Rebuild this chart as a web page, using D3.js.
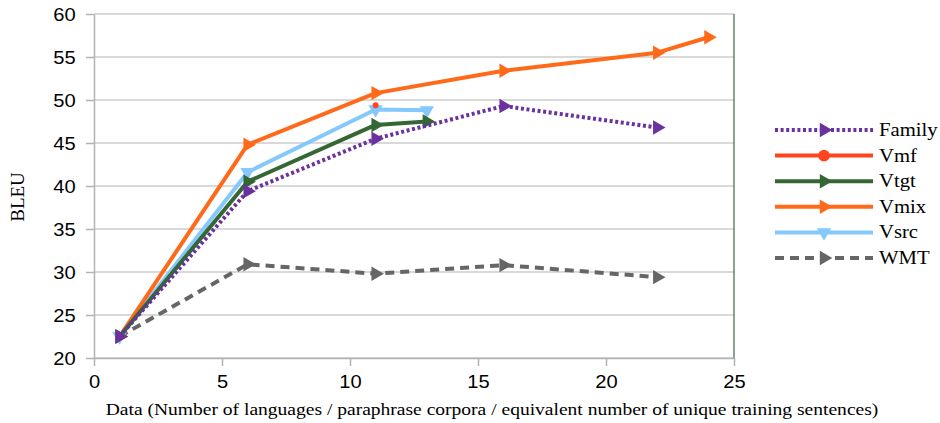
<!DOCTYPE html>
<html>
<head>
<meta charset="utf-8">
<script src="https://cdn.jsdelivr.net/npm/d3@7"></script>
<style>
  body { margin: 0; background: #fff; }
  .tick text { font-family: "Liberation Sans", Arial, sans-serif; font-size: 17.5px; fill: #000; }
  .serif { font-family: "Liberation Serif", "Times New Roman", serif; fill: #000; }
</style>
</head>
<body>
<div class="chart"></div>
<script>
var svgWidth = 940;
var svgHeight = 423;

var margin = { top: 14, right: 206, bottom: 65, left: 94 };

var width = svgWidth - margin.left - margin.right;
var height = svgHeight - margin.top - margin.bottom;

// the source picture is a little wider than tall, so text gets stretched too
var stretch = 1.15;

// data
var seriesNames = ['Family', 'Vmf', 'Vtgt', 'Vmix', 'Vsrc', 'WMT'];
var familyX = [1, 6, 11, 16, 22];
var familyY = [22.5, 39.4, 45.5, 49.3, 46.8];
var vmfX = [11];
var vmfY = [49.4];
var vtgtX = [1, 6, 11, 13];
var vtgtY = [22.5, 40.5, 47.1, 47.5];
var vmixX = [1, 6, 11, 16, 22, 24];
var vmixY = [22.5, 44.8, 50.8, 53.4, 55.5, 57.3];
var vsrcX = [1, 6, 11, 13];
var vsrcY = [22.5, 41.6, 48.9, 48.8];
var wmtX = [1, 6, 11, 16, 22];
var wmtY = [22.5, 30.9, 29.8, 30.8, 29.4];
var xTicks = [0, 5, 10, 15, 20, 25];
var yTicks = [20, 25, 30, 35, 40, 45, 50, 55, 60];

function zip(xs, ys) {
  return xs.map(function(x, i) { return { x: x, y: ys[i] }; });
}

var series = [
  { name: seriesNames[0], pts: zip(familyX, familyY), color: '#6a329f', dash: '3,2.6', marker: 'right', size: 90 },
  { name: seriesNames[1], pts: zip(vmfX, vmfY), color: '#ff4420', dash: null, marker: 'circle', size: 28 },
  { name: seriesNames[2], pts: zip(vtgtX, vtgtY), color: '#346734', dash: null, marker: 'right', size: 90 },
  { name: seriesNames[3], pts: zip(vmixX, vmixY), color: '#ff6a1a', dash: null, marker: 'right', size: 90 },
  { name: seriesNames[4], pts: zip(vsrcX, vsrcY), color: '#85c8fb', dash: null, marker: 'down', size: 90 },
  { name: seriesNames[5], pts: zip(wmtX, wmtY), color: '#666666', dash: '9,6', marker: 'right', size: 90 }
];

var svg = d3.select('.chart')
  .append('svg')
  .attr('width', svgWidth)
  .attr('height', svgHeight);

var chart = svg.append('g')
  .attr('transform', 'translate(' + margin.left + ',' + margin.top + ')');

var x = d3.scaleLinear().domain([0, 25]).range([0, width]);
var y = d3.scaleLinear().domain([20, 60]).range([height, 0]);

// grid
chart.append('g')
  .selectAll('line')
  .data(yTicks)
  .enter()
  .append('line')
  .attr('x1', 0)
  .attr('x2', width)
  .attr('y1', function(d) { return y(d); })
  .attr('y2', function(d) { return y(d); })
  .attr('stroke', '#cccccc')
  .attr('stroke-width', 1.5);

chart.append('line')
  .attr('x1', width).attr('x2', width)
  .attr('y1', 0).attr('y2', height)
  .attr('stroke', '#3d6b4a')
  .attr('stroke-width', 1.2);

var bottom = d3.axisBottom(x).tickValues(xTicks).tickSize(8).tickPadding(10).tickSizeOuter(0);
var left = d3.axisLeft(y).tickValues(yTicks).tickSize(8).tickPadding(8).tickSizeOuter(0);

var gx = chart.append('g')
  .attr('transform', 'translate(0,' + height + ')')
  .call(bottom);
var gy = chart.append('g').call(left);

[gx, gy].forEach(function(g) {
  g.select('.domain').attr('stroke', '#b3b3b3').attr('stroke-width', 1.5);
  g.selectAll('.tick line').attr('stroke', '#b3b3b3').attr('stroke-width', 1.5);
  g.selectAll('.tick text').attr('transform', 'scale(' + stretch + ',1)');
});
gy.selectAll('.tick text').attr('dy', '0.36em');

function symbolRotate(s) {
  if (s.marker === 'right') return 90;
  if (s.marker === 'down') return 180;
  return 0;
}
function symbolPath(s, size) {
  var type = s.marker === 'circle' ? d3.symbolCircle : d3.symbolTriangle;
  return d3.symbol().type(type).size(size)();
}

var line = d3.line()
  .x(function(d) { return x(d.x); })
  .y(function(d) { return y(d.y); });

// draw in reverse so Family sits on top
series.slice().reverse().forEach(function(s) {
  var g = chart.append('g');
  if (s.pts.length > 1) {
    g.append('path')
      .datum(s.pts)
      .attr('d', line)
      .attr('fill', 'none')
      .attr('stroke', s.color)
      .attr('stroke-width', 4)
      .attr('stroke-linejoin', 'round')
      .attr('stroke-dasharray', s.dash);
  }
  g.selectAll('path.mark')
    .data(s.pts)
    .enter()
    .append('path')
    .attr('class', 'mark')
    .attr('d', symbolPath(s, s.size))
    .attr('fill', s.color)
    .attr('transform', function(d) {
      return 'translate(' + x(d.x) + ',' + y(d.y) + ') rotate(' + symbolRotate(s) + ')';
    });
});

// legend
var legend = svg.append('g').attr('transform', 'translate(775,130)');
series.forEach(function(s, i) {
  var row = legend.append('g').attr('transform', 'translate(0,' + (i * 25.6) + ')');
  row.append('line')
    .attr('x1', 0).attr('x2', 98)
    .attr('stroke', s.color)
    .attr('stroke-width', 4)
    .attr('stroke-dasharray', s.dash);
  row.append('path')
    .attr('d', symbolPath(s, s.marker === 'circle' ? 110 : 90))
    .attr('fill', s.color)
    .attr('transform', 'translate(49,0) rotate(' + symbolRotate(s) + ')');
  row.append('text')
    .attr('class', 'serif')
    .attr('transform', 'translate(104,0) scale(' + stretch + ',1)')
    .attr('dy', '0.33em')
    .style('font-size', '18px')
    .text(s.name);
});

// axis titles
svg.append('text')
  .attr('class', 'serif')
  .attr('transform', 'translate(24,197) rotate(-90)')
  .attr('text-anchor', 'middle')
  .style('font-size', '19px')
  .text('BLEU');

svg.append('text')
  .attr('class', 'serif')
  .attr('transform', 'translate(492,415) scale(' + stretch + ',1)')
  .attr('text-anchor', 'middle')
  .style('font-size', '17px')
  .text('Data (Number of languages / paraphrase corpora / equivalent number of unique training sentences)');
</script>
</body>
</html>
